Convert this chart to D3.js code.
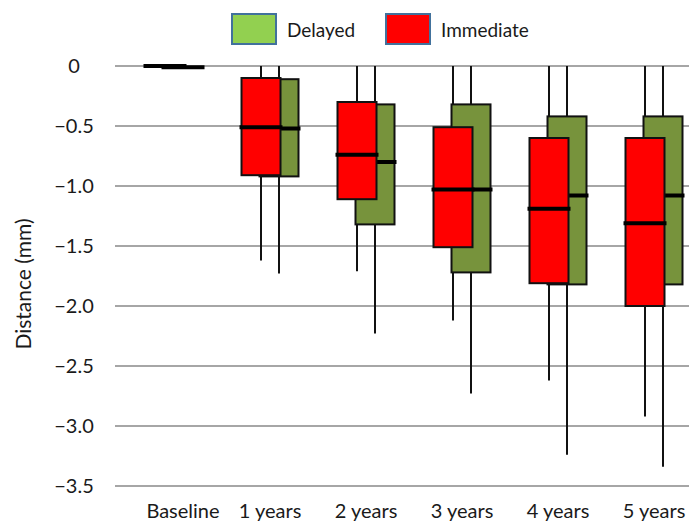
<!DOCTYPE html>
<html>
<head>
<meta charset="utf-8">
<script src="https://cdn.jsdelivr.net/npm/d3@7"></script>
<style>
  body { margin: 0; background: #fff; }
  text { font-family: Lato, "Noto Sans", sans-serif; fill: #1a1a1a; }
</style>
</head>
<body>
<svg width="689" height="521"></svg>
<script>
// Categories and tick labels
var categories = ["Baseline", "1 years", "2 years", "3 years", "4 years", "5 years"];
var yTicks = [0, -0.5, -1.0, -1.5, -2.0, -2.5, -3.0, -3.5];

// Immediate group (red)
var immMax = [0, 0, 0, 0, 0, 0];
var immQ3 = [0, -0.10, -0.30, -0.51, -0.60, -0.60];
var immMedian = [0, -0.51, -0.74, -1.03, -1.19, -1.31];
var immQ1 = [0, -0.91, -1.11, -1.51, -1.81, -2.00];
var immMin = [0, -1.62, -1.71, -2.12, -2.62, -2.92];

// Delayed group (olive)
var delMax = [-0.01, 0, 0, 0, 0, 0];
var delQ3 = [-0.01, -0.11, -0.32, -0.32, -0.42, -0.42];
var delMedian = [-0.01, -0.52, -0.80, -1.03, -1.08, -1.08];
var delQ1 = [-0.01, -0.92, -1.32, -1.72, -1.82, -1.82];
var delMin = [-0.01, -1.73, -2.23, -2.73, -3.24, -3.34];

var svg = d3.select("svg"),
  width = +svg.attr("width"),
  height = +svg.attr("height");

// scales
var x = d3.scaleBand().domain(categories).range([126, 702]);
var offset = d3.scaleOrdinal().domain(["Immediate", "Delayed"]).range([-9, 9]);
var y = d3.scaleLinear().domain([-3.5, 0]).range([486, 66]);
var boxW = 39;

// gridlines
svg.append("g")
  .selectAll("line")
  .data(yTicks)
  .enter()
  .append("line")
  .attr("x1", 115)
  .attr("x2", width)
  .attr("y1", function (d) { return y(d); })
  .attr("y2", function (d) { return y(d); })
  .attr("stroke", "#a6a6a6")
  .attr("stroke-width", 2);

// y tick labels
svg.append("g")
  .selectAll("text")
  .data(yTicks)
  .enter()
  .append("text")
  .attr("x", 74)
  .attr("y", function (d) { return y(d); })
  .attr("dy", "0.36em")
  .attr("text-anchor", "middle")
  .style("font-size", "20px")
  .text(function (d) { return d === 0 ? "0" : d3.format(".1f")(d).replace("-", "\u2212"); });

// y axis title
svg.append("text")
  .attr("transform", "translate(31,284) rotate(-90)")
  .attr("text-anchor", "middle")
  .style("font-size", "21px")
  .text("Distance (mm)");

// x labels (baseline label sits a little right in the original)
svg.append("g")
  .selectAll("text")
  .data(categories)
  .enter()
  .append("text")
  .attr("x", function (d, i) { return x(d) + x.bandwidth() / 2 + (i === 0 ? 9 : 0); })
  .attr("y", 518)
  .attr("text-anchor", "middle")
  .style("font-size", "20px")
  .text(function (d) { return d; });

function series(name, mn, q1, med, q3, mx) {
  return categories.map(function (c, i) {
    return { cat: c, group: name, min: mn[i], q1: q1[i], med: med[i], q3: q3[i], max: mx[i] };
  });
}
var delayed = series("Delayed", delMin, delQ1, delMedian, delQ3, delMax);
var immediate = series("Immediate", immMin, immQ1, immMedian, immQ3, immMax);

function cx(d) {
  return x(d.cat) + x.bandwidth() / 2 + offset(d.group);
}

// whiskers first
svg.append("g")
  .selectAll("line")
  .data(delayed.concat(immediate))
  .enter()
  .append("line")
  .attr("x1", cx)
  .attr("x2", cx)
  .attr("y1", function (d) { return y(d.max); })
  .attr("y2", function (d) { return y(d.min); })
  .attr("stroke", "#111")
  .attr("stroke-width", 2);

// boxes: delayed below, immediate on top
function drawBoxes(data, fill) {
  var g = svg.append("g");
  g.selectAll("rect")
    .data(data)
    .enter()
    .append("rect")
    .attr("x", function (d) { return cx(d) - boxW / 2; })
    .attr("width", boxW)
    .attr("y", function (d) { return y(d.q3); })
    .attr("height", function (d) { return y(d.q1) - y(d.q3); })
    .attr("fill", fill)
    .attr("stroke", "#111")
    .attr("stroke-width", 2);
  g.selectAll("line")
    .data(data)
    .enter()
    .append("line")
    .attr("x1", function (d) { return cx(d) - boxW / 2 - 2; })
    .attr("x2", function (d) { return cx(d) + boxW / 2 + 2; })
    .attr("y1", function (d) { return y(d.med); })
    .attr("y2", function (d) { return y(d.med); })
    .attr("stroke", "#000")
    .attr("stroke-width", 4);
}
drawBoxes(delayed, "#77933c");
drawBoxes(immediate, "#ff0000");

// legend
var legend = [
  { name: "Delayed", fill: "#92d050", x: 232 },
  { name: "Immediate", fill: "#ff0000", x: 386 }
];
var lg = svg.append("g").selectAll("g").data(legend).enter().append("g");
lg.append("rect")
  .attr("x", function (d) { return d.x; })
  .attr("y", 14)
  .attr("width", 44)
  .attr("height", 30)
  .attr("fill", function (d) { return d.fill; })
  .attr("stroke", "#41719c")
  .attr("stroke-width", 2);
lg.append("text")
  .attr("x", function (d) { return d.x + 55; })
  .attr("y", 30)
  .attr("dy", "0.36em")
  .style("font-size", "19px")
  .text(function (d) { return d.name; });
</script>
</body>
</html>
